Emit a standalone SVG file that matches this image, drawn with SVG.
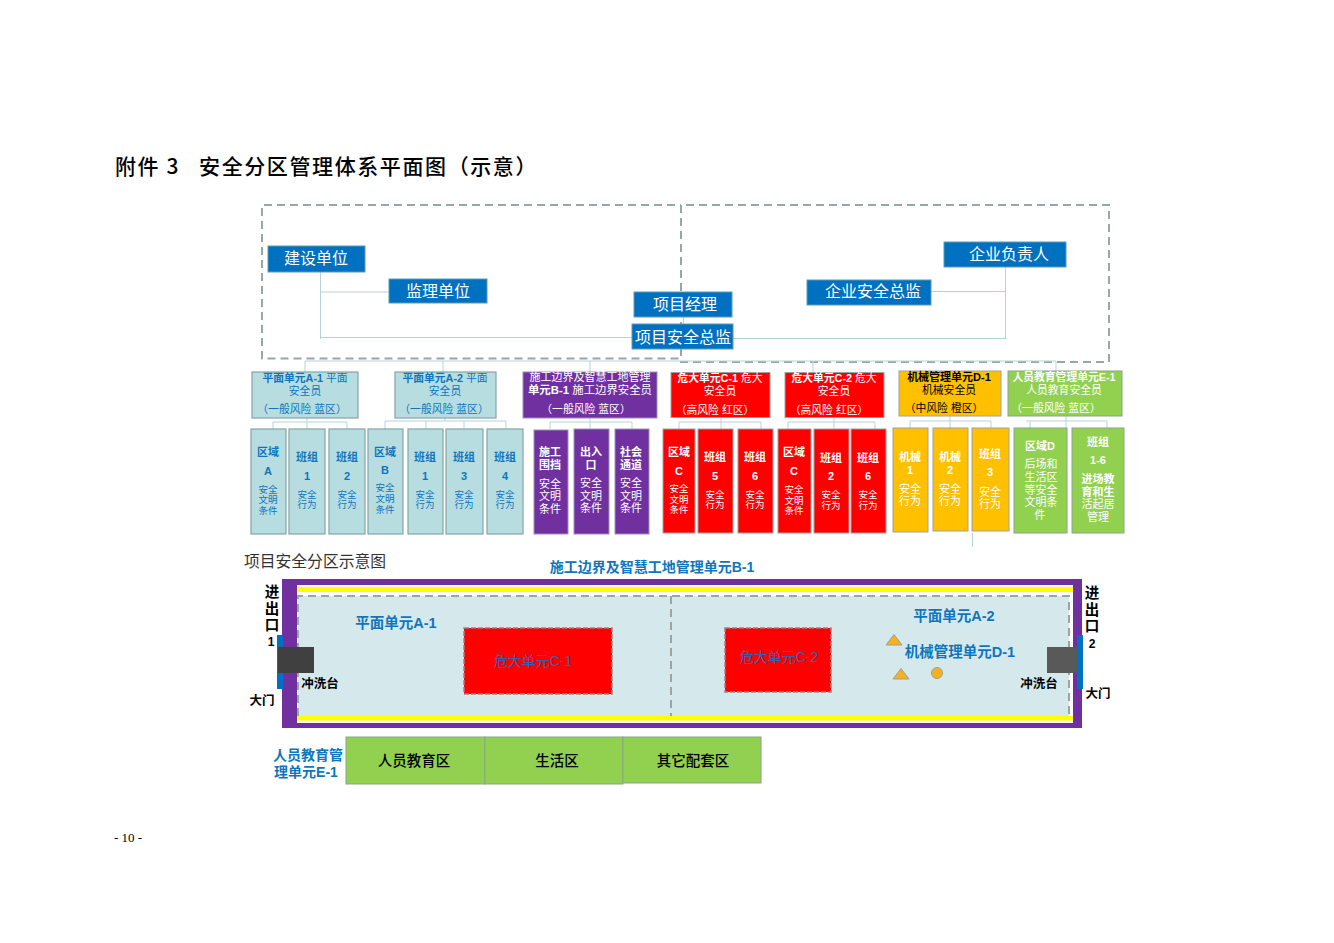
<svg xmlns="http://www.w3.org/2000/svg" width="1334" height="943" viewBox="0 0 1334 943">
<style>
text{font-family:"Liberation Sans","Noto Sans CJK SC",sans-serif;text-anchor:middle}
.top rect{fill:#0070c0;stroke:#5b9bb5;stroke-width:1}
.top text{fill:#fff;font-size:16px}
.dash{fill:none;stroke:#9aa5a5;stroke-width:2;stroke-dasharray:8 5}
.ln{fill:none;stroke:#b7d3da;stroke-width:1}
.teal{fill:#b7dde1;stroke:#84a5a8;stroke-width:1.2}
.tt{fill:#0f75bc}
.pur{fill:#7030a0;stroke:#9c8fb5}
.red{fill:#f00;stroke:#a0a0a0}
.ora{fill:#ffc000;stroke:#a0a0a0}
.grn{fill:#92d050;stroke:#8aa58a}
.w{fill:#fff}
.b{font-weight:700}
.s11{font-size:11px}.s10{font-size:10.8px}.s9{font-size:9.5px}.s12{font-size:12.5px}
.pl{fill:#0f75bc;font-weight:700;font-size:14.5px}
.k{fill:#000;font-weight:700}
.ent{font-size:14.5px}
.num{font-size:12px}
</style>
<rect width="1334" height="943" fill="#fff"/>
<text x="115" y="174" font-size="21" font-weight="500" style="text-anchor:start;font-family:'Noto Sans CJK SC',sans-serif" xml:space="preserve" letter-spacing="1.6">附件 3   安全分区管理体系平面图（示意）</text>
<text x="128" y="842" font-size="13" style="font-family:'Liberation Serif',serif">- 10 -</text>
<g id="connectors">
<path class="dash" d="M681 205V358.500H262V205H681"/>
<path class="dash" d="M681 205V362H1109V205H681"/>
<path class="ln" d="M320.500 272V339M320 292H389M320 337.500H632M683.500 317V324M931 291.500H1005M1005.500 267V339M733 338.500H1007"/>
<path class="ln" d="M305 361H1056M305 361V372M443 361V372M590 361V372M813 361V372M1056 361V371"/>
<path class="ln" d="M273 422H347M273 422V429M307 418V429M347 422V429"/>
<path class="ln" d="M385 421H506M385 421V429M426 421V429M464 421V429M506 421V429M445 418V421"/>
<path class="ln" d="M550 422H632M550 422V429M590 418V429M632 422V429"/>
<path class="ln" d="M679 422H761M679 422V429M721 418V429M761 422V429"/>
<path class="ln" d="M788 422H875M788 422V429M834 418V429M875 422V429"/>
<path class="ln" d="M910 421H991M910 421V428M950 416V428M991 421V428"/>
<path class="ln" d="M1026 421H1107M1030 421V428M1066 416V428M1107 421V428"/>
<path class="ln" d="M972.500 533V547"/>
</g>
<g class="top">
<g id="n-jianshe"><rect x="268" y="246" width="97" height="26"/><text x="316" y="264">建设单位</text></g>
<g id="n-jianli"><rect x="389" y="279" width="98" height="24"/><text x="438" y="297">监理单位</text></g>
<g id="n-xmjl"><rect x="634" y="292" width="98" height="25"/><text x="685" y="310">项目经理</text></g>
<g id="n-xmaq"><rect x="632" y="324" width="101" height="25"/><text x="683" y="343">项目安全总监</text></g>
<g id="n-qyfz"><rect x="944" y="242" width="122" height="25"/><text x="1009" y="260">企业负责人</text></g>
<g id="n-qyaq"><rect x="807" y="280" width="124" height="25"/><text x="873" y="297">企业安全总监</text></g>
</g>
<g id="u-a1"><rect class="teal" x="252" y="372" width="106" height="46"/><text class="tt s10" x="305" y="382"><tspan class="b">平面单元A-1</tspan> 平面</text><text class="tt s10" x="305" y="395">安全员</text><text class="tt s10" x="302" y="413">（一般风险 蓝区）</text></g>
<g id="u-a2"><rect class="teal" x="395" y="372" width="101" height="46"/><text class="tt s10" x="445" y="382"><tspan class="b">平面单元A-2</tspan> 平面</text><text class="tt s10" x="445" y="395">安全员</text><text class="tt s10" x="444" y="413">（一般风险 蓝区）</text></g>
<g id="u-b1"><rect class="pur" x="523" y="372" width="134" height="46"/><text class="w s11" x="590" y="381">施工边界及智慧工地管理</text><text class="w s10" x="590" y="394" style="font-size:11.4px"><tspan class="b">单元B-1</tspan>  施工边界安全员</text><text class="w s10" x="586" y="413">（一般风险 蓝区）</text></g>
<g id="u-c1"><rect class="red" x="671" y="372.500" width="99" height="45"/><text class="w s10" x="720" y="382"><tspan class="b">危大单元C-1</tspan> 危大</text><text class="w s10" x="720" y="395">安全员</text><text class="w s10" x="715" y="414">（高风险 红区）</text></g>
<g id="u-c2"><rect class="red" x="785" y="372.500" width="99" height="45"/><text class="w s10" x="834" y="382"><tspan class="b">危大单元C-2</tspan> 危大</text><text class="w s10" x="834" y="395">安全员</text><text class="w s10" x="829" y="414">（高风险 红区）</text></g>
<g id="u-d1"><rect class="ora" x="899" y="371" width="102" height="45"/><text class="k s10" x="949" y="381" style="font-size:11px">机械管理单元D-1</text><text class="s10" x="949" y="394">机械安全员</text><text class="s10" x="944" y="412">（中风险 橙区）</text></g>
<g id="u-e1"><rect class="grn" x="1008" y="371" width="114" height="45"/><text class="w s10" x="1064" y="381"><tspan class="b">人员教育管理单元E-1</tspan></text><text class="w s10" x="1064" y="394">人员教育安全员</text><text class="w s10" x="1056" y="412">（一般风险 蓝区）</text></g>

<g id="c-a"><rect class="teal" x="251" y="429" width="35" height="105"/><text class="tt b s11" x="268" y="456">区域</text><text class="tt b s11" x="268" y="475">A</text><text class="tt s9" x="268" y="493">安全</text><text class="tt s9" x="268" y="503">文明</text><text class="tt s9" x="268" y="514">条件</text></g>
<g id="c-a1"><rect class="teal" x="289" y="429" width="36" height="105"/><text class="tt b s11" x="307" y="461">班组</text><text class="tt b s11" x="307" y="480">1</text><text class="tt s9" x="307" y="498">安全</text><text class="tt s9" x="307" y="508">行为</text></g>
<g id="c-a2"><rect class="teal" x="329" y="429" width="36" height="105"/><text class="tt b s11" x="347" y="461">班组</text><text class="tt b s11" x="347" y="480">2</text><text class="tt s9" x="347" y="498">安全</text><text class="tt s9" x="347" y="508">行为</text></g>
<g id="c-b"><rect class="teal" x="368" y="429" width="35" height="105"/><text class="tt b s11" x="385" y="456">区域</text><text class="tt b s11" x="385" y="474">B</text><text class="tt s9" x="385" y="491">安全</text><text class="tt s9" x="385" y="502">文明</text><text class="tt s9" x="385" y="513">条件</text></g>
<g id="c-b1"><rect class="teal" x="408" y="429" width="35" height="105"/><text class="tt b s11" x="425" y="461">班组</text><text class="tt b s11" x="425" y="480">1</text><text class="tt s9" x="425" y="498">安全</text><text class="tt s9" x="425" y="508">行为</text></g>
<g id="c-b3"><rect class="teal" x="446" y="429" width="37" height="105"/><text class="tt b s11" x="464" y="461">班组</text><text class="tt b s11" x="464" y="480">3</text><text class="tt s9" x="464" y="498">安全</text><text class="tt s9" x="464" y="508">行为</text></g>
<g id="c-b4"><rect class="teal" x="487" y="429" width="36" height="105"/><text class="tt b s11" x="505" y="461">班组</text><text class="tt b s11" x="505" y="480">4</text><text class="tt s9" x="505" y="498">安全</text><text class="tt s9" x="505" y="508">行为</text></g>

<g id="c-p1"><rect class="pur" x="534" y="430" width="34" height="104"/><text class="w b s11" x="550" y="456">施工</text><text class="w b s11" x="550" y="469">围挡</text><text class="w s11" x="550" y="488">安全</text><text class="w s11" x="550" y="500">文明</text><text class="w s11" x="550" y="513">条件</text></g>
<g id="c-p2"><rect class="pur" x="574" y="429" width="35" height="105"/><text class="w b s11" x="591" y="456">出入</text><text class="w b s11" x="591" y="469">口</text><text class="w s11" x="591" y="487">安全</text><text class="w s11" x="591" y="500">文明</text><text class="w s11" x="591" y="512">条件</text></g>
<g id="c-p3"><rect class="pur" x="615" y="429" width="34" height="105"/><text class="w b s11" x="631" y="456">社会</text><text class="w b s11" x="631" y="469">通道</text><text class="w s11" x="631" y="487">安全</text><text class="w s11" x="631" y="500">文明</text><text class="w s11" x="631" y="512">条件</text></g>

<g id="c-r1"><rect class="red" x="663" y="429" width="32" height="104"/><text class="w b s11" x="679" y="456">区域</text><text class="w b s11" x="679" y="475">C</text><text class="w s9" x="679" y="492">安全</text><text class="w s9" x="679" y="503">文明</text><text class="w s9" x="679" y="513">条件</text></g>
<g id="c-r2"><rect class="red" x="698" y="429" width="35" height="104"/><text class="w b s11" x="715" y="461">班组</text><text class="w b s11" x="715" y="480">5</text><text class="w s9" x="715" y="498">安全</text><text class="w s9" x="715" y="508">行为</text></g>
<g id="c-r3"><rect class="red" x="738" y="429" width="35" height="104"/><text class="w b s11" x="755" y="461">班组</text><text class="w b s11" x="755" y="480">6</text><text class="w s9" x="755" y="498">安全</text><text class="w s9" x="755" y="508">行为</text></g>
<g id="c-r4"><rect class="red" x="778" y="429" width="33" height="104"/><text class="w b s11" x="794" y="456">区域</text><text class="w b s11" x="794" y="475">C</text><text class="w s9" x="794" y="493">安全</text><text class="w s9" x="794" y="504">文明</text><text class="w s9" x="794" y="514">条件</text></g>
<g id="c-r5"><rect class="red" x="814" y="429" width="35" height="104"/><text class="w b s11" x="831" y="462">班组</text><text class="w b s11" x="831" y="480">2</text><text class="w s9" x="831" y="498">安全</text><text class="w s9" x="831" y="509">行为</text></g>
<g id="c-r6"><rect class="red" x="851" y="429" width="35" height="104"/><text class="w b s11" x="868" y="462">班组</text><text class="w b s11" x="868" y="480">6</text><text class="w s9" x="868" y="498">安全</text><text class="w s9" x="868" y="509">行为</text></g>

<g id="c-o1"><rect class="ora" x="893" y="428" width="35" height="104"/><text class="w b s11" x="910" y="461">机械</text><text class="w b s11" x="910" y="474">1</text><text class="w s11" x="910" y="493">安全</text><text class="w s11" x="910" y="505">行为</text></g>
<g id="c-o2"><rect class="ora" x="933" y="428" width="35" height="103"/><text class="w b s11" x="950" y="461">机械</text><text class="w b s11" x="950" y="474">2</text><text class="w s11" x="950" y="493">安全</text><text class="w s11" x="950" y="505">行为</text></g>
<g id="c-o3"><rect class="ora" x="972" y="428" width="37" height="103"/><text class="w b s11" x="990" y="458">班组</text><text class="w b s11" x="990" y="476">3</text><text class="w s11" x="990" y="496">安全</text><text class="w s11" x="990" y="508">行为</text></g>

<g id="c-g1"><rect class="grn" x="1014" y="428" width="53" height="105"/><text class="w b s11" x="1040" y="450">区域D</text><text class="w s11" x="1041" y="468">后场和</text><text class="w s11" x="1041" y="481">生活区</text><text class="w s11" x="1041" y="494">等安全</text><text class="w s11" x="1041" y="506">文明条</text><text class="w s11" x="1040" y="519">件</text></g>
<g id="c-g2"><rect class="grn" x="1072" y="428" width="52" height="105"/><text class="w b s11" x="1098" y="446">班组</text><text class="w b s11" x="1098" y="464">1-6</text><text class="w b s11" x="1098" y="483">进场教</text><text class="w b s11" x="1098" y="496">育和生</text><text class="w s11" x="1098" y="508">活起居</text><text class="w s11" x="1098" y="521">管理</text></g>

<text x="315" y="567" font-size="15.800" fill="#333">项目安全分区示意图</text>
<text class="pl" x="652" y="572" style="font-size:14px">施工边界及智慧工地管理单元B-1</text>

<rect x="282" y="579" width="800" height="149" fill="#7030a0"/>
<rect x="297" y="585" width="776" height="138" fill="#fff"/>
<rect x="297" y="587" width="776" height="5" fill="#ff0"/>
<rect x="298" y="596" width="771" height="120" fill="#d5e9ed"/>
<rect x="297" y="716" width="776" height="4.500" fill="#ff0"/>
<path class="dash" d="M298 716V596H1069V716M671 596V716"/>

<rect x="464" y="628" width="148" height="66" fill="#f00" stroke="#a08080" stroke-dasharray="5 2" stroke-width="1.500"/>
<rect x="725" y="628" width="106" height="64" fill="#f00" stroke="#a08080" stroke-dasharray="5 2" stroke-width="1.500"/>
<text x="533" y="666" font-size="14" fill="#3d5fa8">危大单元C-1</text>
<text x="779" y="662" font-size="14" fill="#3d5fa8">危大单元C-2</text>

<rect x="277" y="635" width="6" height="54" fill="#0070c0"/>
<rect x="278" y="647" width="36" height="26" fill="#404040"/>
<rect x="1077" y="635" width="6" height="54" fill="#0070c0"/>
<rect x="1047" y="647" width="30" height="26" fill="#595959"/>

<path d="M894 634.500L902 645H886Z M901 668.500L909 679H893Z" fill="#f5b120" stroke="#a0a090"/>
<circle cx="937" cy="673" r="5.500" fill="#f5b120" stroke="#a0a090"/>

<text class="pl" x="396" y="628">平面单元A-1</text>
<text class="pl" x="954" y="621">平面单元A-2</text>
<text class="pl" x="960" y="657">机械管理单元D-1</text>

<text class="k ent" x="272" y="597">进</text><text class="k ent" x="272" y="614">出</text><text class="k ent" x="272" y="630">口</text><text class="k num" x="271" y="646">1</text>
<text class="k ent" x="1092" y="598">进</text><text class="k ent" x="1092" y="615">出</text><text class="k ent" x="1092" y="631">口</text><text class="k num" x="1092" y="648">2</text>
<text class="k s12" x="262" y="705">大门</text>
<text class="k s12" x="1098" y="698">大门</text>
<text class="k s12" x="320" y="688">冲洗台</text>
<text class="k s12" x="1039" y="688">冲洗台</text>

<text class="pl" x="308" y="760" style="font-size:14px">人员教育管</text>
<text class="pl" x="306" y="777" style="font-size:14px">理单元E-1</text>
<g id="z1"><rect class="grn" x="346" y="737" width="139" height="47"/><text x="414" y="766" font-size="14.500" font-weight="500">人员教育区</text></g>
<g id="z2"><rect class="grn" x="485" y="737" width="138" height="47"/><text x="557" y="766" font-size="14.500" font-weight="500">生活区</text></g>
<g id="z3"><rect class="grn" x="623" y="737" width="138" height="46"/><text x="693" y="766" font-size="14.500" font-weight="500">其它配套区</text></g>
</svg>
